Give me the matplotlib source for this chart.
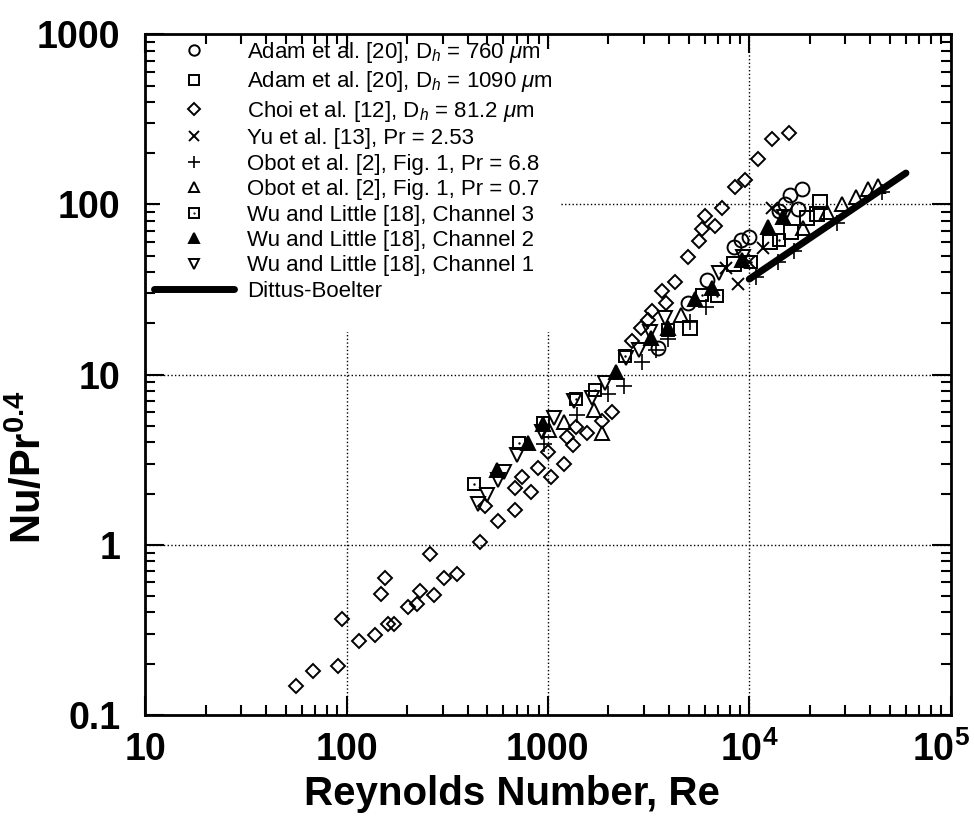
import numpy as np
import matplotlib
matplotlib.use("Agg")
import matplotlib.pyplot as plt
import matplotlib.transforms as mtransforms
from matplotlib.patches import Rectangle
from matplotlib.ticker import FixedLocator, FixedFormatter, LogLocator, NullFormatter
from matplotlib.legend_handler import HandlerTuple

plt.rcParams['font.family'] = ['Liberation Sans', 'DejaVu Sans']
plt.rcParams['mathtext.fontset'] = 'custom'
plt.rcParams['mathtext.rm'] = 'Liberation Sans'
plt.rcParams['mathtext.it'] = 'Liberation Sans:italic'
plt.rcParams['mathtext.bf'] = 'Liberation Sans:bold'

# ---- data (Re, Nu/Pr^0.4) ----
adam760_re = [3524, 4977, 6180, 8414, 9120, 10000, 14090, 15100, 16000, 17540, 18370]
adam760_nu = [14.4, 26.5, 36.2, 56.6, 62.2, 64.8, 91, 100, 113, 93.5, 124]

adam1090_re = [5083, 8414, 12710, 16180, 19450, 21780, 22540]
adam1090_nu = [18.9, 44.4, 60.5, 69.3, 82.8, 87.3, 104]

choi_re = [56.4, 67.8, 91.2, 95.5, 115, 138, 149, 155, 160, 173,
           201, 225, 233, 259, 271, 304, 353, 459, 486, 564,
           685, 685, 743, 823, 892, 1035, 1000, 1202, 1332, 1244,
           1378, 1563, 1857, 2081, 2617, 2902, 3146, 3292, 3690, 3864,
           4285, 4977, 5641, 5838, 6043, 6776, 7345, 8519, 9550, 11090,
           13000, 15800]
choi_nu = [0.148, 0.182, 0.194, 0.367, 0.272, 0.296, 0.515, 0.64, 0.343, 0.343,
           0.432, 0.45, 0.536, 0.885, 0.508, 0.64, 0.675, 1.04, 1.70, 1.37,
           1.61, 2.16, 2.51, 2.05, 2.84, 2.51, 3.52, 2.99, 3.87, 4.32,
           4.94, 4.56, 5.36, 6.06, 15.8, 18.7, 20.8, 23.5, 30.8, 26.2,
           34.8, 48.8, 60.6, 72.2, 85, 75.2, 94.7, 126, 140, 184,
           244, 262]

yu_re = [7690, 8810, 10000, 11750, 13000]
yu_nu = [42.6, 34.3, 46.2, 55.1, 94.7]

obot68_re = [955, 1393, 1990, 2388, 2937, 3443, 3954, 5083, 6109, 10840,
             13930, 16750, 27400, 45400]
obot68_nu = [3.93, 5.82, 7.73, 8.62, 11.8, 14.0, 16.1, 20.5, 25.1, 37.7,
             45.6, 53.0, 78.3, 118]

obot07_re = [1012, 1202, 1694, 1857, 4592, 18580, 24430, 29040, 34080, 39060, 43350]
obot07_nu = [4.75, 5.29, 6.22, 4.56, 22.5, 72.3, 89.7, 100, 111, 123, 128]

wu3_re = [429, 718, 944, 1378, 1714, 2415, 3954, 5838, 6936, 10230, 14090]
wu3_nu = [2.29, 3.98, 5.22, 7.23, 8.16, 12.8, 18.4, 29.2, 28.8, 46.2, 62.2]

wu2_re = [557, 795, 944, 2178, 3252, 3954, 5383, 6547, 9226, 12450, 14760]
wu2_nu = [2.76, 3.98, 5.15, 10.4, 16.5, 18.9, 28.0, 32.1, 47.4, 73.3, 83.9]

wu1_re = [449, 498, 564, 604, 701, 933, 1072, 1346, 1656, 1923,
          2443, 2838, 3215, 3818, 7096, 9333, 14930]
wu1_nu = [1.74, 1.97, 2.41, 2.69, 3.38, 4.62, 5.58, 7.03, 7.32, 8.97,
          12.6, 14.0, 17.7, 21.6, 39.8, 49.4, 83.9]

db_re = [10000, 60000]
db_nu = [36.4, 153]

labels = ['Adam et al. [20], D$_h$ = 760 $\\mathit{\\mu}$m',
          'Adam et al. [20], D$_h$ = 1090 $\\mathit{\\mu}$m',
          'Choi et al. [12], D$_h$ = 81.2 $\\mathit{\\mu}$m',
          'Yu et al. [13], Pr = 2.53',
          'Obot et al. [2], Fig. 1, Pr = 6.8',
          'Obot et al. [2], Fig. 1, Pr = 0.7',
          'Wu and Little [18], Channel 3',
          'Wu and Little [18], Channel 2',
          'Wu and Little [18], Channel 1',
          'Dittus-Boelter']

xticks = [10, 100, 1000, 1e4, 1e5]
xticklabels = ['10', '100', '1000', r'10$^\mathbf{4}$', r'10$^\mathbf{5}$']
yticks = [0.1, 1, 10, 100, 1000]
yticklabels = ['0.1', '1', '10', '100', '1000']

fig = plt.figure(figsize=(9.74, 8.17), dpi=100)
ax = fig.add_axes([0.149, 0.125, 0.827, 0.833])
ax.set_axisbelow(True)

mew = 1.4
kw = dict(linestyle='none', color='black', markeredgewidth=mew)

h1, = ax.plot(adam760_re, adam760_nu, marker='o', mfc='none', markersize=10, **kw)
h2, = ax.plot(adam1090_re, adam1090_nu, marker='s', mfc='none', markersize=9.5, **kw)
h3, = ax.plot(choi_re, choi_nu, marker='D', mfc='none', markersize=7.5, **kw)
h4, = ax.plot(yu_re, yu_nu, marker='x', markersize=9, **kw)
h5, = ax.plot(obot68_re, obot68_nu, marker='+', linestyle='none', color='black',
              markeredgewidth=1.2, markersize=12)
h6, = ax.plot(obot07_re, obot07_nu, marker='^', mfc='none', markersize=10, **kw)
h7a, = ax.plot(wu3_re, wu3_nu, marker='s', mfc='none', markersize=9, **kw)
h7b, = ax.plot(wu3_re, wu3_nu, marker='.', linestyle='none', color='black', markersize=1.5)
h8, = ax.plot(wu2_re, wu2_nu, marker='^', mfc='black', markersize=10, **kw)
h9, = ax.plot(wu1_re, wu1_nu, marker='v', mfc='none', markersize=10, **kw)
h10, = ax.plot(db_re, db_nu, color='black', linewidth=5, solid_capstyle='round')

ax.set_xscale('log')
ax.set_yscale('log')
ax.set_xlim(10, 1e5)
ax.set_ylim(0.1, 1000)

ax.xaxis.set_major_locator(FixedLocator(xticks))
ax.xaxis.set_major_formatter(FixedFormatter(xticklabels))
ax.yaxis.set_major_locator(FixedLocator(yticks))
ax.yaxis.set_major_formatter(FixedFormatter(yticklabels))
ax.xaxis.set_minor_locator(LogLocator(base=10, subs=np.arange(2, 10), numticks=20))
ax.yaxis.set_minor_locator(LogLocator(base=10, subs=np.arange(2, 10), numticks=20))
ax.xaxis.set_minor_formatter(NullFormatter())
ax.yaxis.set_minor_formatter(NullFormatter())

ax.tick_params(which='both', direction='in', top=True, right=True, width=1.5)
ax.tick_params(which='major', length=14, labelsize=27)
ax.tick_params(axis='x', which='major', pad=12)
ax.tick_params(axis='y', which='major', pad=18)
ax.tick_params(which='minor', length=7)
for lab in ax.get_xticklabels() + ax.get_yticklabels():
    lab.set_fontweight('bold')
# pull the 10^5 label in a little so it stays on the page
last = ax.xaxis.get_major_ticks()[-1].label1
last.set_transform(last.get_transform() +
                   mtransforms.ScaledTranslation(-7 / 72, 0, fig.dpi_scale_trans))
for sp in ax.spines.values():
    sp.set_linewidth(2)

ax.grid(which='major', linestyle=':', color='black', linewidth=1.0)

# white block behind the legend hides the grid there
ax.add_patch(Rectangle((0.019, 0.562), 0.496, 0.417, transform=ax.transAxes,
                       facecolor='white', edgecolor='none', zorder=1))

ax.set_xlabel('Reynolds Number, Re', fontsize=29, fontweight='bold')
ax.xaxis.set_label_coords(0.455, -0.088)
ax.set_ylabel(r'Nu/Pr$^\mathbf{0.4}$', fontsize=30, fontweight='bold')
ax.yaxis.set_label_coords(-0.118, 0.364)

leg = ax.legend([h1, h2, h3, h4, h5, h6, (h7a, h7b), h8, h9, h10], labels,
                handler_map={tuple: HandlerTuple(ndivide=1, pad=0)},
                loc='upper left', bbox_to_anchor=(0.004, 1.0), fontsize=16,
                frameon=False, handlelength=3.6, handletextpad=0.6,
                labelspacing=0.2, borderaxespad=0.0, borderpad=0.25,
                markerscale=0.75)

fig.savefig('out.png', dpi=100)
